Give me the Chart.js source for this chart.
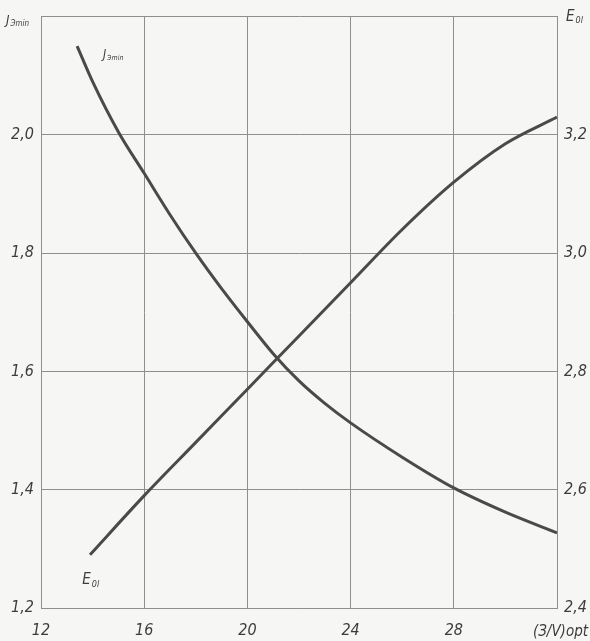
<!DOCTYPE html>
<html>
<head>
<meta charset="utf-8">
<script src="https://cdn.jsdelivr.net/npm/chart.js@4"></script>
<style>
  html, body { margin: 0; padding: 0; background: #f6f6f4; }
  canvas { display: block; }
</style>
</head>
<body>
<canvas id="jeChart" width="590" height="641"></canvas>
<script>
// (З/V)opt values at which each curve was read
const jX = [13.4, 14, 15, 16, 17, 18, 19, 20, 21, 22, 23, 24, 26, 28, 30, 32];
const jVals = [2.15, 2.09, 2.005, 1.935, 1.865, 1.80, 1.74, 1.684, 1.63, 1.584, 1.546, 1.513, 1.455, 1.403, 1.362, 1.327];
const eX = [13.9, 16, 18, 20, 22, 24, 26, 28, 30, 32];
const eVals = [2.49, 2.59, 2.68, 2.77, 2.86, 2.95, 3.04, 3.12, 3.185, 3.23];

const xTicks = [12, 16, 20, 24, 28, 32];
const jTicks = [1.2, 1.4, 1.6, 1.8, 2.0, 2.2];
const eTicks = [2.4, 2.6, 2.8, 3.0, 3.2, 3.4];

const FONT = "'DejaVu Sans Condensed', 'Liberation Sans Narrow', sans-serif";
const INK = '#3c3c3c';
const GRID = '#8e8e8e';

function toPoints(xs, ys) {
  return xs.map((x, i) => ({ x: x, y: ys[i] }));
}

function comma(v) {
  return v.toFixed(1).replace('.', ',');
}

// letter with a small subscript, e.g. E0l
function drawSub(ctx, x, y, main, sub, size) {
  ctx.font = 'italic ' + size + 'px ' + FONT;
  ctx.fillText(main, x, y);
  const w = ctx.measureText(main).width;
  ctx.font = 'italic ' + Math.round(size * 0.6) + 'px ' + FONT;
  ctx.fillText(sub, x + w + 1, y + size * 0.15);
}

const labelsPlugin = {
  id: 'labels',
  afterDraw(chart) {
    const ctx = chart.ctx;
    const x = chart.scales.x;
    const yl = chart.scales.y;
    const yr = chart.scales.y2;
    ctx.save();
    ctx.fillStyle = INK;
    ctx.textBaseline = 'alphabetic';
    ctx.textAlign = 'left';
    // axis titles
    drawSub(ctx, 6, 24, 'J', 'Эmin', 13);
    drawSub(ctx, 566, 21, 'E', '0l', 15);
    ctx.font = 'italic 15px ' + FONT;
    ctx.textAlign = 'right';
    ctx.fillText('(З/V)opt', 588, 636);
    ctx.textAlign = 'left';
    // curve names
    drawSub(ctx, x.getPixelForValue(14.4), yl.getPixelForValue(2.13), 'J', 'Эmin', 12);
    drawSub(ctx, x.getPixelForValue(13.6), yr.getPixelForValue(2.44), 'E', '0l', 15);
    ctx.restore();
  }
};

const ctx = document.getElementById('jeChart');

new Chart(ctx, {
  type: 'line',
  data: {
    datasets: [{
      label: 'Jэmin',
      data: toPoints(jX, jVals),
      yAxisID: 'y',
      borderColor: '#4a4a4a',
      borderWidth: 3,
      pointRadius: 0,
      cubicInterpolationMode: 'monotone'
    }, {
      label: 'E0l',
      data: toPoints(eX, eVals),
      yAxisID: 'y2',
      borderColor: '#4a4a4a',
      borderWidth: 3,
      pointRadius: 0,
      cubicInterpolationMode: 'monotone'
    }]
  },
  options: {
    responsive: false,
    animation: false,
    devicePixelRatio: 1,
    layout: { padding: { top: 16 } },
    plugins: {
      legend: { display: false },
      tooltip: { enabled: false }
    },
    scales: {
      x: {
        type: 'linear',
        min: 12,
        max: 32,
        afterBuildTicks: s => { s.ticks = xTicks.map(v => ({ value: v })); },
        afterFit: s => { s.height = 33; },
        grid: { color: GRID, lineWidth: 1, drawTicks: false },
        border: { color: GRID },
        ticks: {
          padding: 13,
          color: INK,
          font: { family: FONT, size: 16, style: 'italic' },
          callback: v => (v === 32 ? '' : String(v))
        }
      },
      y: {
        position: 'left',
        min: 1.2,
        max: 2.2,
        afterBuildTicks: s => { s.ticks = jTicks.map(v => ({ value: v })); },
        afterFit: s => { s.width = 41; },
        grid: { color: GRID, lineWidth: 1, drawTicks: false },
        border: { color: GRID },
        ticks: {
          padding: 7,
          color: INK,
          font: { family: FONT, size: 16, style: 'italic' },
          callback: v => (v > 2.1 ? '' : comma(v))
        }
      },
      y2: {
        position: 'right',
        min: 2.4,
        max: 3.4,
        afterBuildTicks: s => { s.ticks = eTicks.map(v => ({ value: v })); },
        afterFit: s => { s.width = 33; },
        grid: { drawOnChartArea: false, drawTicks: false },
        border: { color: GRID },
        ticks: {
          padding: 7,
          color: INK,
          font: { family: FONT, size: 16, style: 'italic' },
          callback: v => (v > 3.3 ? '' : comma(v))
        }
      }
    }
  },
  plugins: [labelsPlugin]
});
</script>
</body>
</html>
